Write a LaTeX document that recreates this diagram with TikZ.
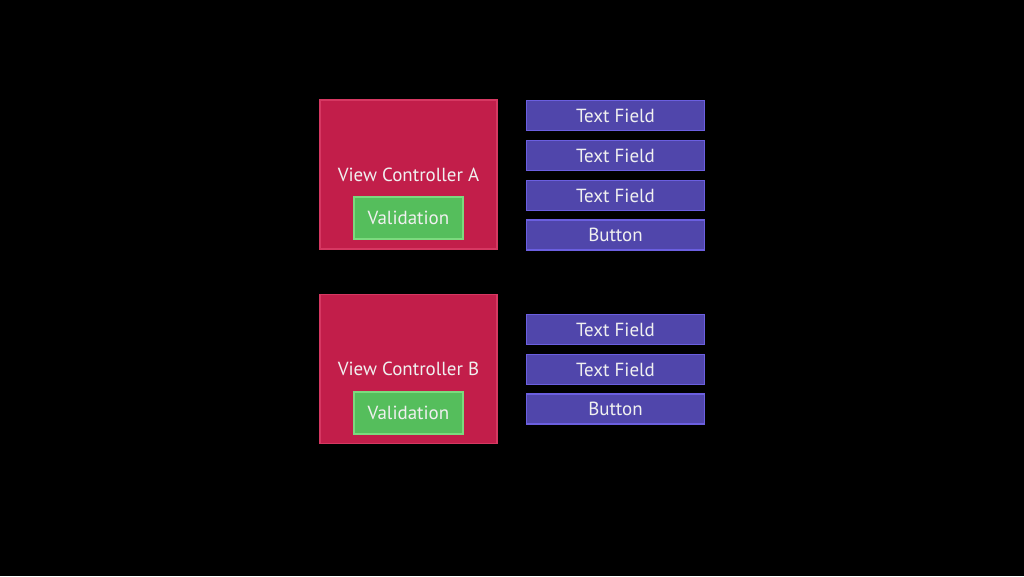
\documentclass[tikz,border=0pt]{standalone}
\usepackage{fontspec}
\setmainfont{PT Sans}
\definecolor{vcred}{HTML}{C21E4A}
\definecolor{vcedge}{HTML}{D63862}
\definecolor{valgreen}{HTML}{55BE5C}
\definecolor{valedge}{HTML}{7CDA7E}
\definecolor{uipurple}{HTML}{5046AB}
\definecolor{uiedge}{HTML}{6B5FE0}
\definecolor{labelwhite}{HTML}{F0F0F0}
\tikzset{
  vcbox/.style={fill=vcred,draw=vcedge,line width=0.6pt,minimum width=3.54cm,minimum height=2.98cm,inner sep=0pt},
  valbox/.style={fill=valgreen,draw=valedge,line width=0.6pt,minimum width=2.18cm,minimum height=0.84cm,inner sep=0pt},
  uibox/.style={fill=uipurple,draw=uiedge,line width=0.6pt,minimum width=3.55cm,minimum height=0.6cm,inner sep=0pt},
  every node/.style={text=labelwhite,font=\fontsize{10.8}{12}\selectfont}
}
\begin{document}
\begin{tikzpicture}[x=0.02cm,y=-0.02cm]

\fill[black] (0,0) rectangle (1024,576);
\useasboundingbox (0,0) rectangle (1024,576);

\node[vcbox] (vcA) at (408.5,174.5) {View Controller A};
\node[valbox] (valA) at (408.5,218) {Validation};

\node[uibox] (fieldA1) at (615.5,115.5) {Text Field};
\node[uibox] (fieldA2) at (615.5,155.5) {Text Field};
\node[uibox] (fieldA3) at (615.5,195.5) {Text Field};
\node[uibox] (buttonA) at (615.5,235) {Button};

\node[vcbox] (vcB) at (408.5,369) {View Controller B};
\node[valbox] (valB) at (408.5,413) {Validation};

\node[uibox] (fieldB1) at (615.5,329.5) {Text Field};
\node[uibox] (fieldB2) at (615.5,369.5) {Text Field};
\node[uibox] (buttonB) at (615.5,409) {Button};
\end{tikzpicture}
\end{document}
